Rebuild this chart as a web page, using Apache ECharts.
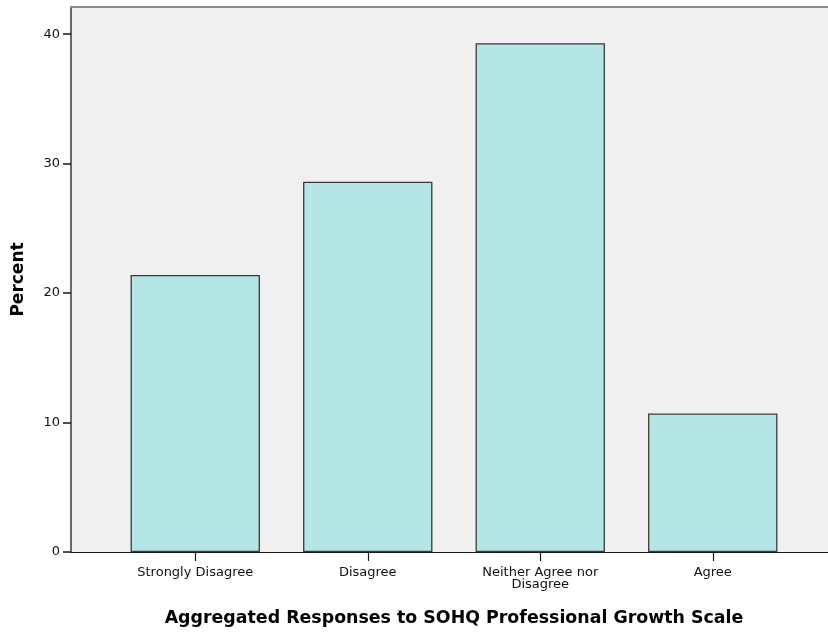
<!DOCTYPE html>
<html>
<head>
<meta charset="utf-8">
<script src="https://cdn.jsdelivr.net/npm/echarts@6/dist/echarts.min.js"></script>
<style>
html,body{margin:0;padding:0;background:#fff;}
#c{width:828px;height:632px;}
</style>
</head>
<body>
<div id="c"></div>
<script>
var categories = ['Strongly Disagree', 'Disagree', 'Neither Agree nor\nDisagree', 'Agree'];
var percents = [21.4, 28.6, 39.3, 10.7];
var yTicks = [0, 10, 20, 30, 40];
var yMax = 42.1;
var xTitle = 'Aggregated Responses to SOHQ Professional Growth Scale';
var yTitle = 'Percent';

var FONT = '"DejaVu Sans", Verdana, sans-serif';
var chart = echarts.init(document.getElementById('c'), null, {renderer: 'canvas'});
chart.setOption({
  animation: false,
  backgroundColor: '#ffffff',
  grid: [
    {left: 71, top: 7, width: 757, height: 545, show: true, backgroundColor: '#f0f0f0', borderWidth: 0},
    {left: 109, top: 7, width: 690, height: 545, show: false}
  ],
  xAxis: [
    {gridIndex: 0, type: 'category', data: ['a'], position: 'bottom',
     axisLine: {show: true, lineStyle: {color: '#1a1a1a', width: 1.2}},
     axisTick: {show: false}, axisLabel: {show: false}, splitLine: {show: false}},
    {gridIndex: 0, type: 'category', data: ['a'], position: 'top',
     axisLine: {show: true, lineStyle: {color: '#8a8a8a', width: 2}},
     axisTick: {show: false}, axisLabel: {show: false}, splitLine: {show: false}},
    {gridIndex: 1, type: 'category', data: categories, position: 'bottom',
     axisLine: {show: false},
     axisTick: {show: true, alignWithLabel: true, length: 9, lineStyle: {color: '#1a1a1a', width: 1.2}},
     axisLabel: {show: true, color: '#111', fontFamily: FONT, fontSize: 13, margin: 15, lineHeight: 12, interval: 0},
     name: xTitle, nameLocation: 'middle', nameGap: 58,
     nameTextStyle: {fontFamily: FONT, fontSize: 17.4, fontWeight: 'bold', color: '#000'}}
  ],
  yAxis: [
    {gridIndex: 0, type: 'value', min: 0, max: yMax,
     axisLine: {show: true, lineStyle: {color: '#3a3a3a', width: 1.5}},
     axisTick: {show: true, length: 8, customValues: yTicks, lineStyle: {color: '#1a1a1a', width: 1.5}},
     axisLabel: {show: true, customValues: yTicks, color: '#111', fontFamily: FONT, fontSize: 13, margin: 11},
     splitLine: {show: false},
     name: yTitle, nameLocation: 'middle', nameGap: 44, nameRotate: 90,
     nameTextStyle: {fontFamily: FONT, fontSize: 17, fontWeight: 'bold', color: '#000'}},
    {gridIndex: 1, type: 'value', min: 0, max: yMax, show: false, splitLine: {show: false}}
  ],
  series: [{
    type: 'bar', xAxisIndex: 2, yAxisIndex: 1,
    data: percents, barWidth: '75%',
    itemStyle: {color: '#b4e6e6', borderColor: '#3a3a3a', borderWidth: 1.3}
  }]
});
</script>
</body>
</html>
